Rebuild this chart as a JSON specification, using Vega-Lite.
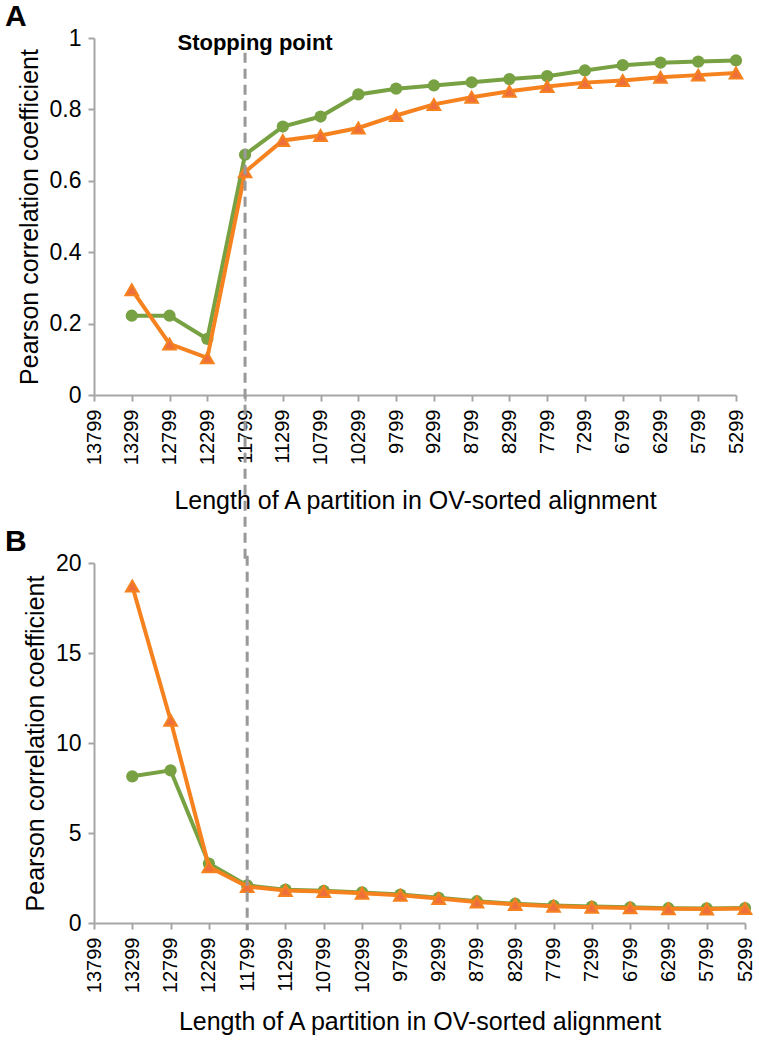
{
  "$schema": "https://vega.github.io/schema/vega-lite/v6.json",
  "background": "white",
  "padding": {"left": 5, "top": 2, "right": 10, "bottom": 2},
  "bounds": "flush",
  "spacing": 168,
  "config": {
    "view": {"stroke": null},
    "font": "Liberation Sans",
    "axis": {
      "grid": false,
      "domainColor": "#A6A6A6",
      "domainWidth": 2,
      "tickColor": "#A6A6A6",
      "tickWidth": 2,
      "tickSize": 6,
      "labelColor": "#000000",
      "titleColor": "#000000",
      "labelFont": "Liberation Sans",
      "titleFont": "Liberation Sans",
      "titleFontWeight": "normal"
    },
    "title": {
      "fontSize": 30,
      "fontWeight": "bold",
      "anchor": "start",
      "frame": "group",
      "color": "#000000",
      "dx": -89,
      "offset": -5
    }
  },
  "datasets": {
    "panelA": [
      {"len": 13299, "series": "Series 1", "r": 0.222},
      {"len": 12799, "series": "Series 1", "r": 0.222},
      {"len": 12299, "series": "Series 1", "r": 0.157},
      {"len": 11799, "series": "Series 1", "r": 0.673},
      {"len": 11299, "series": "Series 1", "r": 0.752},
      {"len": 10799, "series": "Series 1", "r": 0.780},
      {"len": 10299, "series": "Series 1", "r": 0.842},
      {"len": 9799, "series": "Series 1", "r": 0.858},
      {"len": 9299, "series": "Series 1", "r": 0.867},
      {"len": 8799, "series": "Series 1", "r": 0.876},
      {"len": 8299, "series": "Series 1", "r": 0.885},
      {"len": 7799, "series": "Series 1", "r": 0.893},
      {"len": 7299, "series": "Series 1", "r": 0.909},
      {"len": 6799, "series": "Series 1", "r": 0.924},
      {"len": 6299, "series": "Series 1", "r": 0.931},
      {"len": 5799, "series": "Series 1", "r": 0.934},
      {"len": 5299, "series": "Series 1", "r": 0.937},
      {"len": 13299, "series": "Series 2", "r": 0.295},
      {"len": 12799, "series": "Series 2", "r": 0.143},
      {"len": 12299, "series": "Series 2", "r": 0.104},
      {"len": 11799, "series": "Series 2", "r": 0.625},
      {"len": 11299, "series": "Series 2", "r": 0.713},
      {"len": 10799, "series": "Series 2", "r": 0.727},
      {"len": 10299, "series": "Series 2", "r": 0.748},
      {"len": 9799, "series": "Series 2", "r": 0.783},
      {"len": 9299, "series": "Series 2", "r": 0.814},
      {"len": 8799, "series": "Series 2", "r": 0.834},
      {"len": 8299, "series": "Series 2", "r": 0.851},
      {"len": 7799, "series": "Series 2", "r": 0.864},
      {"len": 7299, "series": "Series 2", "r": 0.875},
      {"len": 6799, "series": "Series 2", "r": 0.881},
      {"len": 6299, "series": "Series 2", "r": 0.890},
      {"len": 5799, "series": "Series 2", "r": 0.896},
      {"len": 5299, "series": "Series 2", "r": 0.902}
    ],
    "panelB": [
      {"len": 13299, "series": "Series 1", "r": 8.15},
      {"len": 12799, "series": "Series 1", "r": 8.48},
      {"len": 12299, "series": "Series 1", "r": 3.30},
      {"len": 11799, "series": "Series 1", "r": 2.09},
      {"len": 11299, "series": "Series 1", "r": 1.85},
      {"len": 10799, "series": "Series 1", "r": 1.79},
      {"len": 10299, "series": "Series 1", "r": 1.70},
      {"len": 9799, "series": "Series 1", "r": 1.58},
      {"len": 9299, "series": "Series 1", "r": 1.40},
      {"len": 8799, "series": "Series 1", "r": 1.21},
      {"len": 8299, "series": "Series 1", "r": 1.07},
      {"len": 7799, "series": "Series 1", "r": 0.97},
      {"len": 7299, "series": "Series 1", "r": 0.91},
      {"len": 6799, "series": "Series 1", "r": 0.87},
      {"len": 6299, "series": "Series 1", "r": 0.82},
      {"len": 5799, "series": "Series 1", "r": 0.81},
      {"len": 5299, "series": "Series 1", "r": 0.83},
      {"len": 13299, "series": "Series 2", "r": 18.72},
      {"len": 12799, "series": "Series 2", "r": 11.26},
      {"len": 12299, "series": "Series 2", "r": 3.12},
      {"len": 11799, "series": "Series 2", "r": 2.02},
      {"len": 11299, "series": "Series 2", "r": 1.81},
      {"len": 10799, "series": "Series 2", "r": 1.75},
      {"len": 10299, "series": "Series 2", "r": 1.65},
      {"len": 9799, "series": "Series 2", "r": 1.54},
      {"len": 9299, "series": "Series 2", "r": 1.36},
      {"len": 8799, "series": "Series 2", "r": 1.17},
      {"len": 8299, "series": "Series 2", "r": 1.03},
      {"len": 7799, "series": "Series 2", "r": 0.93},
      {"len": 7299, "series": "Series 2", "r": 0.88},
      {"len": 6799, "series": "Series 2", "r": 0.84},
      {"len": 6299, "series": "Series 2", "r": 0.79},
      {"len": 5799, "series": "Series 2", "r": 0.78},
      {"len": 5299, "series": "Series 2", "r": 0.80}
    ],
    "stopA": [{"len": 11799, "r": 0.959, "r2": -0.47}],
    "stopB": [{"len": 11799, "r": 20.4, "r2": -0.4}],
    "stopLabel": [{"len": 11799, "r": 1, "text": "Stopping point"}]
  },
  "vconcat": [
    {
      "title": {"text": "A"},
      "width": 642,
      "height": 357,
      "encoding": {
        "x": {
          "field": "len",
          "type": "quantitative",
          "scale": {"domain": [5299, 13799], "reverse": true, "nice": false, "zero": false},
          "axis": {
            "values": [13799, 13299, 12799, 12299, 11799, 11299, 10799, 10299, 9799, 9299, 8799, 8299, 7799, 7299, 6799, 6299, 5799, 5299],
            "format": "d",
            "labelAngle": -90,
            "labelFontSize": 20,
            "labelPadding": 8,
            "labelFlush": false,
            "labelOverlap": false,
            "title": "Length of A partition in OV-sorted alignment",
            "titleFontSize": 25,
            "titlePadding": 24
          }
        },
        "y": {
          "field": "r",
          "type": "quantitative",
          "scale": {"domain": [0, 1], "nice": false},
          "axis": {
            "values": [0, 0.2, 0.4, 0.6, 0.8, 1],
            "format": "~g",
            "labelFontSize": 23,
            "labelPadding": 7,
            "title": "Pearson correlation coefficient",
            "titleFontSize": 25,
            "titlePadding": 7
          }
        }
      },
      "layer": [
        {
          "data": {"name": "panelA"},
          "transform": [{"filter": "datum.series == 'Series 1'"}],
          "mark": {"type": "line", "color": "#77A142", "strokeWidth": 4}
        },
        {
          "data": {"name": "panelA"},
          "transform": [{"filter": "datum.series == 'Series 1'"}],
          "mark": {"type": "point", "shape": "circle", "filled": true, "color": "#77A142", "size": 150, "opacity": 1}
        },
        {
          "data": {"name": "panelA"},
          "transform": [{"filter": "datum.series == 'Series 2'"}],
          "mark": {"type": "line", "color": "#F5821F", "strokeWidth": 4}
        },
        {
          "data": {"name": "panelA"},
          "transform": [{"filter": "datum.series == 'Series 2'"}],
          "mark": {"type": "point", "shape": "triangle-up", "filled": true, "fill": "#EE6E3C", "stroke": "#F5821F", "strokeWidth": 2, "size": 160, "opacity": 1}
        },
        {
          "data": {"name": "stopA"},
          "mark": {"type": "rule", "color": "#999999", "strokeWidth": 3, "strokeDash": [10, 6]},
          "encoding": {"y2": {"field": "r2"}}
        },
        {
          "data": {"name": "stopLabel"},
          "mark": {"type": "text", "fontSize": 22, "fontWeight": "bold", "dx": 10, "dy": 5, "align": "center", "baseline": "middle", "color": "#000000"},
          "encoding": {"text": {"field": "text"}}
        }
      ]
    },
    {
      "title": {"text": "B"},
      "width": 651,
      "height": 360,
      "encoding": {
        "x": {
          "field": "len",
          "type": "quantitative",
          "scale": {"domain": [5299, 13799], "reverse": true, "nice": false, "zero": false},
          "axis": {
            "values": [13799, 13299, 12799, 12299, 11799, 11299, 10799, 10299, 9799, 9299, 8799, 8299, 7799, 7299, 6799, 6299, 5799, 5299],
            "format": "d",
            "labelAngle": -90,
            "labelFontSize": 20,
            "labelPadding": 8,
            "labelFlush": false,
            "labelOverlap": false,
            "title": "Length of A partition in OV-sorted alignment",
            "titleFontSize": 25,
            "titlePadding": 17
          }
        },
        "y": {
          "field": "r",
          "type": "quantitative",
          "scale": {"domain": [0, 20], "nice": false},
          "axis": {
            "values": [0, 5, 10, 15, 20],
            "format": "~g",
            "labelFontSize": 23,
            "labelPadding": 7,
            "title": "Pearson correlation coefficient",
            "titleFontSize": 25,
            "titlePadding": 7
          }
        }
      },
      "layer": [
        {
          "data": {"name": "panelB"},
          "transform": [{"filter": "datum.series == 'Series 1'"}],
          "mark": {"type": "line", "color": "#77A142", "strokeWidth": 4}
        },
        {
          "data": {"name": "panelB"},
          "transform": [{"filter": "datum.series == 'Series 1'"}],
          "mark": {"type": "point", "shape": "circle", "filled": true, "color": "#77A142", "size": 150, "opacity": 1}
        },
        {
          "data": {"name": "panelB"},
          "transform": [{"filter": "datum.series == 'Series 2'"}],
          "mark": {"type": "line", "color": "#F5821F", "strokeWidth": 4}
        },
        {
          "data": {"name": "panelB"},
          "transform": [{"filter": "datum.series == 'Series 2'"}],
          "mark": {"type": "point", "shape": "triangle-up", "filled": true, "fill": "#EE6E3C", "stroke": "#F5821F", "strokeWidth": 2, "size": 160, "opacity": 1}
        },
        {
          "data": {"name": "stopB"},
          "mark": {"type": "rule", "color": "#999999", "strokeWidth": 3, "strokeDash": [10, 6]},
          "encoding": {"y2": {"field": "r2"}}
        }
      ]
    }
  ]
}
